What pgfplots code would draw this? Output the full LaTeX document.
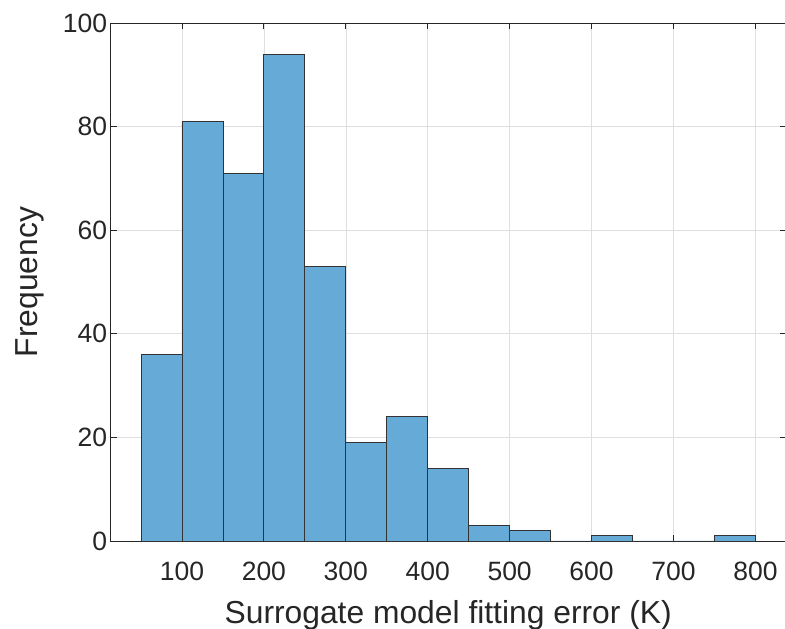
\documentclass[border=0pt]{standalone}
\usepackage{fontspec}
\setmainfont{Liberation Sans}
\usepackage{pgfplots}
\pgfplotsset{compat=1.18}
\definecolor{barfill}{RGB}{102,170,215}
\definecolor{axc}{RGB}{38,38,38}
\begin{document}
\begin{tikzpicture}
\begin{axis}[
  scale only axis,
  width=675pt, height=518pt,
  xmin=13, xmax=837, ymin=0, ymax=100,
  xtick={100,200,...,800},
  ytick={0,20,...,100},
  /pgf/number format/assume math mode=true,
  tick label style={font=\fontsize{26.5}{30}\selectfont, text=axc},
  xticklabel style={anchor=base, yshift=-40pt},
  label style={font=\fontsize{31.8}{38}\selectfont, text=axc},
  xlabel={Surrogate model fitting error (K)},
  ylabel={Frequency},
  xlabel style={at={(axis description cs:0.5,0)}, anchor=base, yshift=-82pt},
  ylabel style={at={(axis description cs:0,0.5)}, anchor=base, yshift=72.7pt},
  grid=major,
  major grid style={gray!25, line width=0.6pt},
  axis line style={axc, line width=0.8pt},
  tick style={axc, line width=0.8pt},
  major tick length=6pt,
  tick align=inside,
  xtick pos=both, ytick pos=both,
  axis on top=false,
  clip=false,
]
\addplot[ybar interval, fill=barfill, draw=black!80, line width=0.8pt] coordinates {
(50,36) (100,81) (150,71) (200,94) (250,53) (300,19) (350,24) (400,14)
(450,3) (500,2) (550,0) (600,1) (650,0) (700,0) (750,1) (800,1)
};
\end{axis}
\pgfresetboundingbox
\path[use as bounding box] (current axis.south west) ++(-110.7pt,-88pt) rectangle ++(785pt,629pt);
\end{tikzpicture}
\end{document}
